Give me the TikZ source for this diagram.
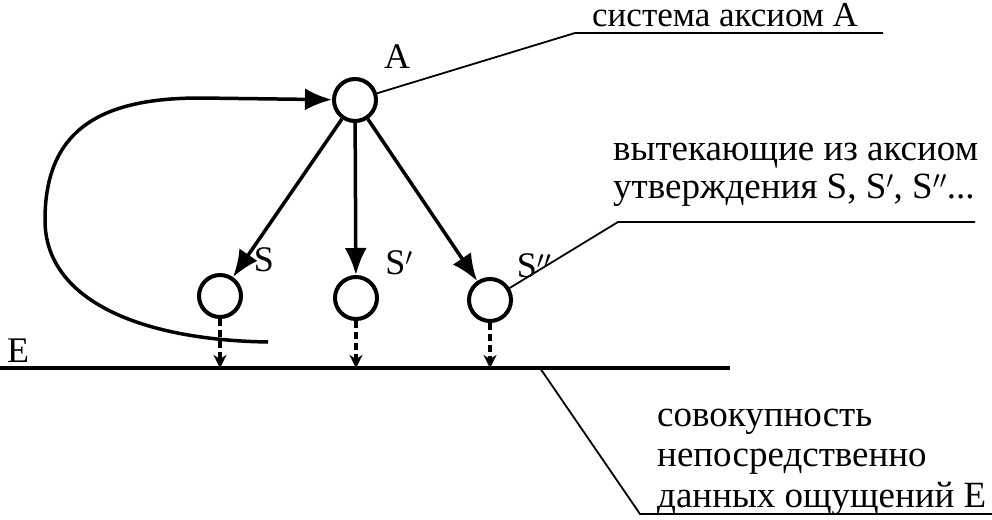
\documentclass[tikz,border=0pt]{standalone}
\usepackage{fontspec}
\setmainfont{Liberation Serif}
\usetikzlibrary{arrows.meta}

\begin{document}
\begin{tikzpicture}[x=1pt,y=-1pt,>={Latex[length=27pt,width=22pt]},
 ball/.style={circle,draw,line width=4pt,minimum size=42pt,inner sep=0pt},
 lbl/.style={font=\fontsize{36}{40}\selectfont,inner sep=0pt},
 note/.style={font=\fontsize{37}{39}\selectfont,inner sep=0pt,align=left,anchor=base west},
 callout/.style={line width=1.8pt},
 fact/.style={line width=3.5pt,dash pattern=on 7pt off 4pt,-{Stealth[length=13pt,width=13pt,inset=4pt]}}]
 \useasboundingbox (0,0) rectangle (992,519);

 % axioms and the statements derived from them
 \node[ball] (A) at (355,100) {};
 \node[ball] (S1) at (220,296) {};
 \node[ball] (S2) at (356,298) {};
 \node[ball] (S3) at (490,300) {};
 \node[lbl] (labA) at (397,57) {A};
 \node[lbl] (labS1) at (264,260) {S};
 \node[lbl] (labS2) at (399,263) {S$'$};
 \node[lbl] (labS3) at (534,266) {S$''$};

 \draw[->,line width=3.5pt] (A) -- (S1);
 \draw[->,line width=3.5pt] (A) -- (S2);
 \draw[->,line width=3.5pt] (A) -- (S3);

 % experience line E
 \coordinate (eL) at (0,368);
 \coordinate (eR) at (730,368);
 \draw[line width=4pt] (eL) -- (eR);
 \node[lbl,anchor=base west] (labE) at (7,362) {E};
 \draw[fact] (S1.south) -- (S1.south |- eL);
 \draw[fact] (S2.south) -- (S2.south |- eL);
 \draw[fact] (S3.south) -- (S3.south |- eL);

 % feedback loop back to the axioms
 \coordinate (back) at (268,342);
 \draw[->,line width=3.5pt] (back) .. controls (140,340) and (45,300) .. (45,220)
   .. controls (45,130) and (100,98) .. (200,98) -- (A);

 % callouts
 \coordinate (kA) at (575,33);
 \coordinate (kA2) at (883,33);
 \draw[callout] (A) -- (kA) -- (kA2);
 \node[note,font=\fontsize{35}{38}\selectfont] (tA) at (592,27) {система аксиом А};

 \coordinate (kS) at (618,222);
 \coordinate (kS2) at (975,222);
 \draw[callout] (S3) -- (kS) -- (kS2);
 \node[note,font=\fontsize{37}{38}\selectfont] (tS) at (613,198) {вытекающие из аксиом\\утверждения S, S$'$, S$''$...};

 \coordinate (kE) at (540,368);
 \coordinate (kE2) at (640,514);
 \coordinate (kE3) at (992,514);
 \draw[callout] (kE) -- (kE2) -- (kE3);
 \node[note,font=\fontsize{37}{40.5}\selectfont] (tE) at (657,507) {совокупность\\непосредственно\\данных ощущений Е};
\end{tikzpicture}
\end{document}
